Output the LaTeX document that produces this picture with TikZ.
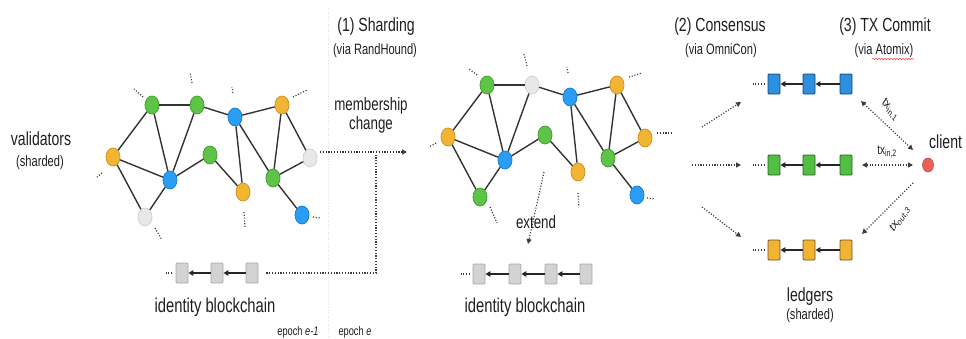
\documentclass[tikz,border=0pt]{standalone}
\usepackage{fontspec}
\setmainfont{Liberation Sans}
\usetikzlibrary{arrows.meta,shapes.geometric,decorations.pathmorphing}

\definecolor{grn}{HTML}{5EC448}
\definecolor{grnD}{HTML}{43A032}
\definecolor{blu}{HTML}{2A9DF4}
\definecolor{bluD}{HTML}{1C80CF}
\definecolor{ylw}{HTML}{F2B533}
\definecolor{ylwD}{HTML}{CF9326}
\definecolor{gry}{HTML}{E8E8E8}
\definecolor{gryD}{HTML}{D2D2D2}
\definecolor{edgec}{HTML}{333333}
\definecolor{dotc}{HTML}{3C3C3C}
\definecolor{txtc}{HTML}{1E1E1E}
\definecolor{idF}{HTML}{D3D3D3}
\definecolor{idD}{HTML}{A8A8A8}
\definecolor{lbF}{HTML}{2C8FE0}
\definecolor{lbD}{HTML}{16466F}
\definecolor{lgF}{HTML}{52BF43}
\definecolor{lgD}{HTML}{2A5E22}
\definecolor{lyF}{HTML}{F1B331}
\definecolor{lyD}{HTML}{6E5520}
\definecolor{cliF}{HTML}{E8605A}
\definecolor{cliD}{HTML}{D04A44}

\newcommand{\fsz}[1]{\fontsize{#1}{#1}\selectfont}

\begin{document}
\begin{tikzpicture}[x=1pt,y=-1pt,
  peer/.style={ellipse, minimum width=14pt, minimum height=18pt, inner sep=0pt, line width=0.8pt},
  gp/.style={peer, fill=grn, draw=grnD},
  bp/.style={peer, fill=blu, draw=bluD},
  yp/.style={peer, fill=ylw, draw=ylwD},
  wp/.style={peer, fill=gry, draw=gryD},
  link/.style={line width=1.4pt, draw=edgec},
  stub/.style={dash pattern=on 1.1pt off 1.7pt, line width=1.2pt, draw=dotc},
  dotarrow/.style={stub, -{Triangle[length=5pt,width=5pt]}},
  dotboth/.style={stub, {Triangle[length=5pt,width=5pt]}-{Triangle[length=5pt,width=5pt]}},
  blk/.style={rectangle, rounded corners=1pt, minimum width=12pt, minimum height=20pt, inner sep=0pt, line width=0.9pt},
  idb/.style={blk, fill=idF, draw=idD},
  chain/.style={line width=1.5pt, draw=black!85, -{Triangle[length=5pt,width=5.5pt]}},
  lbl/.style={inner sep=0pt, text=txtc, xscale=0.74, transform shape},
  big/.style={lbl, font=\fsz{19}},
  small/.style={lbl, font=\fsz{15}},
  tiny/.style={lbl, font=\fsz{12.5}},
  txl/.style={lbl, font=\fsz{13.5}}
]
\useasboundingbox (0,0) rectangle (966,338);

% faint divider between epochs
\draw[dotted, line width=0.6pt, draw=black!12] (328,8) -- (328,336);

% ---------------- validators network, epoch e-1 ----------------
\node[gp] (L1)  at (152,105) {};
\node[gp] (L2)  at (197,105) {};
\node[bp] (L3)  at (235,117) {};
\node[yp] (L4)  at (282,105) {};
\node[yp] (L5)  at (113,157) {};
\node[bp] (L6)  at (170,180) {};
\node[gp] (L7)  at (210,155) {};
\node[yp] (L8)  at (243,192) {};
\node[wp] (L9)  at (310,158) {};
\node[gp] (L10) at (273,178) {};
\node[bp] (L11) at (302,215) {};
\node[wp] (L12) at (145,217) {};

\foreach \a/\b in {1/2,2/3,3/4,1/5,1/6,2/6,5/6,5/12,6/12,6/7,7/8,3/8,3/10,4/10,4/9,9/10,10/11}
  \draw[link] (L\a) -- (L\b);

\draw[stub] ([shift={(-9,-8)}]L1.center) -- ([shift={(-18,-16)}]L1.center);
\draw[stub] ([shift={(-5,-22)}]L2.center) -- ([shift={(-7,-33)}]L2.center);
\draw[stub] ([shift={(-2,-24)}]L3.center) -- ([shift={(-3,-30)}]L3.center);
\draw[stub] ([shift={(11,-8)}]L4.center) -- ([shift={(25,-15)}]L4.center);
\draw[stub] ([shift={(-11,16)}]L5.center) -- ([shift={(-16,20)}]L5.center);
\draw[stub] ([shift={(1,20)}]L8.center) -- ([shift={(2,35)}]L8.center);
\draw[stub] ([shift={(11,2)}]L11.center) -- ([shift={(19,3)}]L11.center);
\draw[stub] ([shift={(10,11)}]L12.center) -- ([shift={(17,23)}]L12.center);

\node[big] (val) at (41,139) {validators};
\node[small] (valsh) at (40,163) {(sharded)};

% identity blockchain, epoch e-1
\node[idb] (I1) at (182,273) {};
\node[idb] (I2) at (217,273) {};
\node[idb] (I3) at (252,273) {};
\draw[stub] ([xshift=-10pt]I1.west) -- ([xshift=-2pt]I1.west);
\draw[chain] (I2) -- (I1);
\draw[chain] (I3) -- (I2);
\node[lbl, font=\fsz{20}] (idl) at (215,307) {identity blockchain};

% ---------------- step (1): sharding ----------------
\node[big] (s1) at (376,27) {(1) Sharding};
\node[small] (s1v) at (375,51) {(via RandHound)};
\node[lbl, font=\fsz{18}] (mem) at (371,106) {membership};
\node[lbl, font=\fsz{18}] (chg) at (371,125) {change};

\coordinate (mcS) at (320,152);
\coordinate (mcE) at (407,152);
\coordinate (mcJ) at (376,273);
\draw[dotarrow] (mcS) -- (mcE);
\draw[stub] ([xshift=8pt]I3.east) -- (mcJ) -- (376,153);

\node[tiny] (ep1) at (298,332) {epoch \textit{e-1}};
\node[tiny] (ep2) at (355,332) {epoch \textit{e}};

% ---------------- validators network, epoch e ----------------
\node[gp] (M1)  at (487,85) {};
\node[wp] (M2)  at (532,85) {};
\node[bp] (M3)  at (570,97) {};
\node[yp] (M4)  at (617,85) {};
\node[yp] (M5)  at (448,137) {};
\node[bp] (M6)  at (505,160) {};
\node[gp] (M7)  at (545,135) {};
\node[yp] (M8)  at (578,172) {};
\node[yp] (M9)  at (645,138) {};
\node[gp] (M10) at (608,158) {};
\node[bp] (M11) at (637,195) {};
\node[gp] (M12) at (480,197) {};

\foreach \a/\b in {1/2,2/3,3/4,1/5,1/6,2/6,5/6,5/12,6/12,6/7,7/8,3/8,3/10,4/10,4/9,9/10,10/11}
  \draw[link] (M\a) -- (M\b);

\draw[stub] ([shift={(-10,-10)}]M1.center) -- ([shift={(-18,-16)}]M1.center);
\draw[stub] ([shift={(-5,-19)}]M2.center) -- ([shift={(-8,-31)}]M2.center);
\draw[stub] ([shift={(-2,-24)}]M3.center) -- ([shift={(-3,-30)}]M3.center);
\draw[stub] ([shift={(12,-8)}]M4.center) -- ([shift={(25,-12)}]M4.center);
\draw[stub] ([shift={(-12,6)}]M5.center) -- ([shift={(-19,10)}]M5.center);
\draw[stub] ([shift={(0,21)}]M8.center) -- ([shift={(1,35)}]M8.center);
\draw[stub] ([shift={(12,-5)}]M9.center) -- ([shift={(27,-5)}]M9.center);
\draw[stub] ([shift={(10,3)}]M11.center) -- ([shift={(18,4)}]M11.center);
\draw[stub] ([shift={(10,10)}]M12.center) -- ([shift={(17,26)}]M12.center);

% identity blockchain, epoch e
\node[idb] (J1) at (479,274) {};
\node[idb] (J2) at (515,274) {};
\node[idb] (J3) at (551,274) {};
\node[idb] (J4) at (586,274) {};
\draw[stub] ([xshift=-12pt]J1.west) -- ([xshift=-2pt]J1.west);
\draw[chain] (J2) -- (J1);
\draw[chain] (J3) -- (J2);
\draw[chain] (J4) -- (J3);
\node[lbl, font=\fsz{20}] (idm) at (525,307) {identity blockchain};

\coordinate (exS) at (544,172);
\coordinate (exE) at (528,244);
\draw[dotarrow] (exS) -- (exE);
\node[lbl, font=\fsz{18}] (ext) at (536,222) {extend};

% ---------------- step (2): consensus ----------------
\node[big] (s2) at (720,27) {(2) Consensus};
\node[small] (s2v) at (721,51) {(via OmniCon)};

\node[blk, fill=lbF, draw=lbD] (B1) at (774,84) {};
\node[blk, fill=lbF, draw=lbD] (B2) at (809,84) {};
\node[blk, fill=lbF, draw=lbD] (B3) at (846,84) {};
\node[blk, fill=lgF, draw=lgD] (G1) at (774,165) {};
\node[blk, fill=lgF, draw=lgD] (G2) at (809,165) {};
\node[blk, fill=lgF, draw=lgD] (G3) at (846,165) {};
\node[blk, fill=lyF, draw=lyD] (Y1) at (774,250) {};
\node[blk, fill=lyF, draw=lyD] (Y2) at (809,250) {};
\node[blk, fill=lyF, draw=lyD] (Y3) at (846,250) {};
\foreach \r in {B,G,Y}{
  \draw[chain] (\r2) -- (\r1);
  \draw[chain] (\r3) -- (\r2);
  \draw[stub] ([xshift=-15pt]\r1.west) -- ([xshift=-3pt]\r1.west);
}

\coordinate (c1S) at (702,127);
\coordinate (c1E) at (741,102);
\coordinate (c2S) at (692,165);
\coordinate (c2E) at (741,165);
\coordinate (c3S) at (702,207);
\coordinate (c3E) at (741,237);
\draw[dotarrow] (c1S) -- (c1E);
\draw[dotarrow] (c2S) -- (c2E);
\draw[dotarrow] (c3S) -- (c3E);

\node[big] (led) at (810,297) {ledgers};
\node[small] (ledsh) at (810,316) {(sharded)};

% ---------------- step (3): transaction commit ----------------
\node[big] (s3) at (885,27) {(3) TX Commit};
\node[small] (s3v) at (884,51) {(via Atomix)};
\draw[red!75, line width=0.5pt, decorate, decoration={snake, amplitude=0.7pt, segment length=3pt}] (872,59) -- (914,59);

\node[ellipse, minimum width=11pt, minimum height=14pt, inner sep=0pt, fill=cliF, draw=cliD, line width=0.6pt] (cli) at (928,165) {};
\node[big, anchor=west] (clit) at (929,142) {client};

\coordinate (t1A) at (861,101);
\coordinate (t1B) at (913,150);
\coordinate (t2A) at (862,165);
\coordinate (t2B) at (913,165);
\coordinate (t3A) at (913,183);
\coordinate (t3B) at (862,234);
\draw[dotboth] (t1A) -- (t1B);
\draw[dotboth] (t2A) -- (t2B);
\draw[dotarrow] (t3A) -- (t3B);

\node[txl, rotate=-43] (tx1) at (890,110) {tx\textsubscript{in,1}};
\node[txl] (tx2) at (887,152) {tx\textsubscript{in,2}};
\node[txl, rotate=48] (tx3) at (900,219) {tx\textsubscript{out,3}};
\end{tikzpicture}
\end{document}
